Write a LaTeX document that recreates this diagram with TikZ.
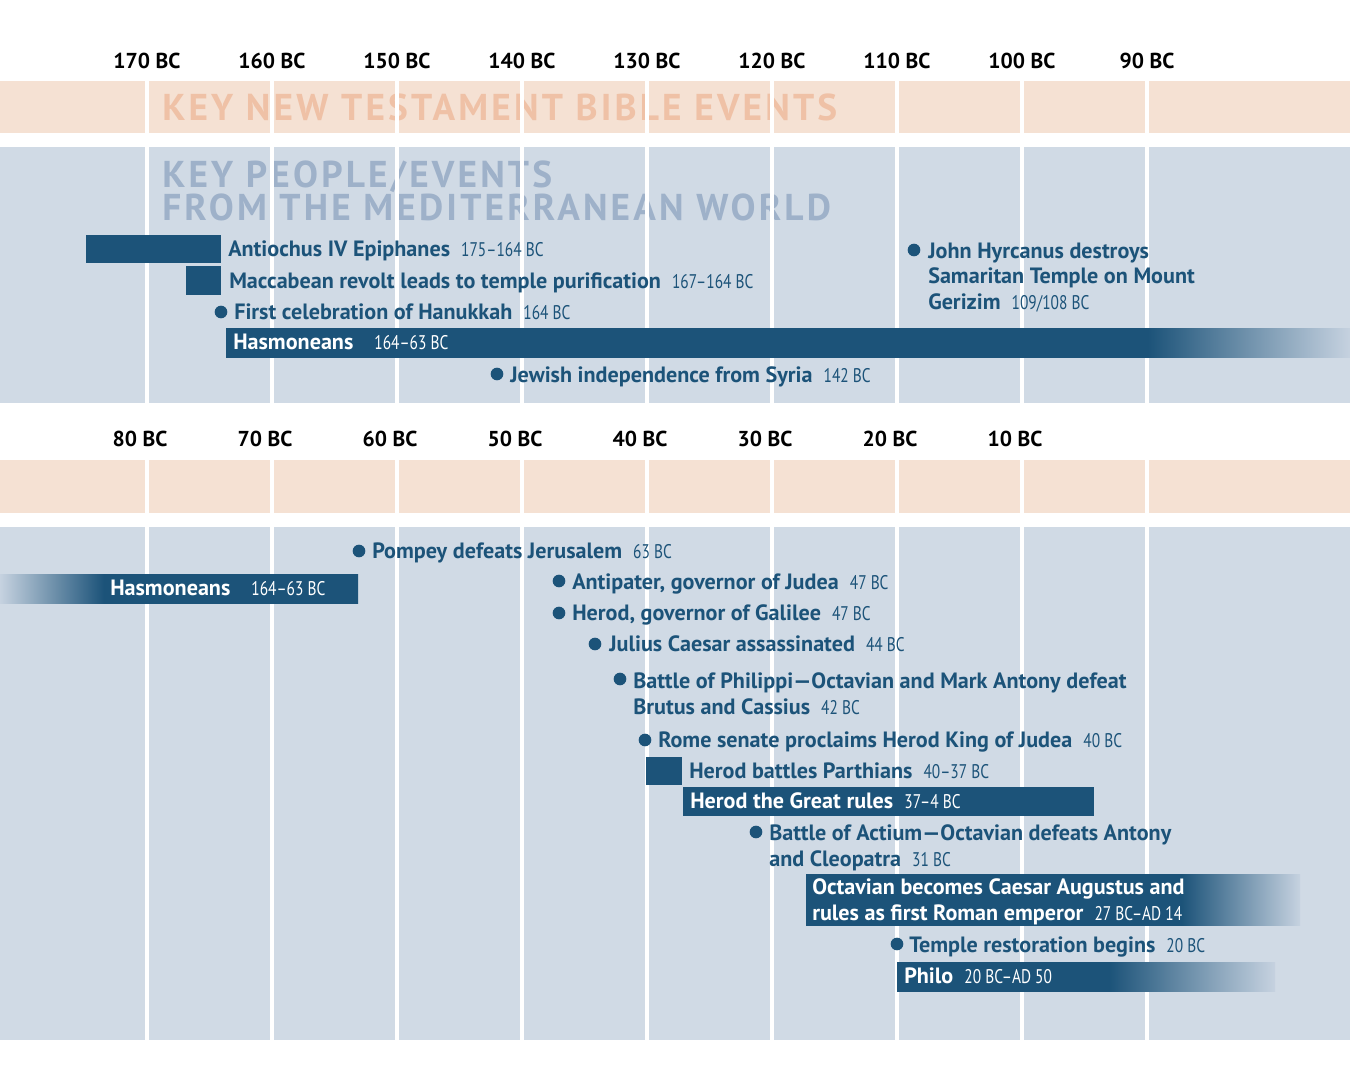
\documentclass[tikz,border=0pt]{standalone}
\usepackage{fontspec}
\setmainfont{PT Sans}
\newfontfamily\datefont[FakeStretch=0.78]{PT Sans}
\usetikzlibrary{positioning}

\definecolor{peachband}{RGB}{245,225,211}
\definecolor{peachtext}{RGB}{239,193,166}
\definecolor{blueband}{RGB}{208,218,229}
\definecolor{bluetext}{RGB}{158,177,201}
\definecolor{barblue}{RGB}{28,83,121}
\definecolor{fadeend}{RGB}{198,210,224}

\pgfdeclarehorizontalshading{hasfade}{100bp}{color(0bp)=(barblue); color(66bp)=(barblue);
  color(75bp)=(fadeend); color(100bp)=(fadeend)}
\pgfdeclarehorizontalshading{hasfadeL}{100bp}{color(0bp)=(fadeend); color(25bp)=(fadeend);
  color(39.5bp)=(barblue); color(100bp)=(barblue)}
\pgfdeclarehorizontalshading{augfade}{100bp}{color(0bp)=(barblue); color(63bp)=(barblue);
  color(75bp)=(fadeend); color(100bp)=(fadeend)}
\pgfdeclarehorizontalshading{philofade}{100bp}{color(0bp)=(barblue); color(53bp)=(barblue);
  color(75bp)=(fadeend); color(100bp)=(fadeend)}

\newcommand{\evt}[3][0.5em]{{\bfseries #2}\hspace{#1}{\datefont\fontsize{14.8}{18.8}\selectfont #3}}

\begin{document}
\begin{tikzpicture}[x=0.75pt, y=-0.75pt,
  yearlbl/.style={font=\fontsize{16.2}{19}\selectfont\bfseries, inner sep=0, anchor=base},
  bigtitle/.style={font=\fontsize{28}{25}\selectfont\bfseries\addfontfeatures{LetterSpace=8.5},
    inner sep=0, anchor=base west, align=left},
  evlbl/.style={font=\fontsize{16.6}{18.8}\selectfont, text=barblue, inner sep=0,
    anchor=base west, align=left},
  barlbl/.style={evlbl, text=white},
  dot/.style={circle, fill=barblue, inner sep=0, minimum size=9.5pt},
  gridln/.style={white, line width=2.3pt}
]
  \useasboundingbox (0,0) rectangle (1350,1070);
  \fill[white] (0,0) rectangle (1350,1070);

  % bands
  \fill[peachband] (0,81) rectangle (1350,133);
  \fill[blueband] (0,147) rectangle (1350,403);
  \fill[peachband] (0,460) rectangle (1350,513);
  \fill[blueband] (0,527) rectangle (1350,1040);

  \node[bigtitle, text=peachtext] (nttitle) at (162,121) {KEY NEW TESTAMENT BIBLE EVENTS};
  \node[bigtitle, text=bluetext] (medtitle1) at (162,188) {KEY PEOPLE/EVENTS};
  \node[bigtitle, text=bluetext] (medtitle2) at (162,221) {FROM THE MEDITERRANEAN WORLD};

  \foreach \x in {147,272,...,1147} {
    \draw[gridln] (\x,81) -- (\x,403);
    \draw[gridln] (\x,460) -- (\x,1040);
  }
  \foreach \yr [count=\i from 0] in {170,160,150,140,130,120,110,100,90}
    \node[yearlbl] (top\yr) at (147+125*\i,69) {\yr\ BC};
  \foreach \yr [count=\i from 0] in {80,70,60,50,40,30,20,10}
    \node[yearlbl] (bot\yr) at (140+125*\i,446) {\yr\ BC};

  % top section
  \fill[barblue] (86,235) rectangle (221,263);
  \node[evlbl] (antiochus) at (228,257) {\evt{Antiochus IV Epiphanes}{175–164 BC}};
  \fill[barblue] (186,266) rectangle (221,295);
  \node[evlbl] (maccabean) at (229,288) {\evt{Maccabean revolt leads to temple purification}{167–164 BC}};
  \node[dot] (hanukkahdot) at (221,312) {};
  \node[evlbl] (hanukkah) at (234,319) {\evt{First celebration of Hanukkah}{164 BC}};
  \shade[shading=hasfade] (226,328) rectangle (1350,357);
  \node[barlbl] (hasmoneans) at (233,349) {\evt[0.95em]{Hasmoneans}{164–63 BC}};
  \node[dot] (syriadot) at (497,374) {};
  \node[evlbl] (syria) at (510,382) {\evt{Jewish independence from Syria}{142 BC}};
  \node[dot] (hyrcanusdot) at (914,250) {};
  \node[evlbl] (hyrcanus) at (928,309) {{\bfseries John Hyrcanus destroys}\\
    {\bfseries Samaritan Temple on Mount}\\ \evt{Gerizim}{109/108 BC}};

  % bottom section
  \node[dot] (pompeydot) at (359,551) {};
  \node[evlbl] (pompey) at (372,558) {\evt{Pompey defeats Jerusalem}{63 BC}};
  \shade[shading=hasfadeL] (0,574) rectangle (358,603);
  \node[barlbl] (hasmoneans2) at (110,595) {\evt[0.95em]{Hasmoneans}{164–63 BC}};
  \node[dot] (antipaterdot) at (559,581) {};
  \node[evlbl] (antipater) at (572,589) {\evt{Antipater, governor of Judea}{47 BC}};
  \node[dot] (galileedot) at (559,613) {};
  \node[evlbl] (galilee) at (572,620) {\evt{Herod, governor of Galilee}{47 BC}};
  \node[dot] (caesardot) at (595,644) {};
  \node[evlbl] (caesar) at (609,651) {\evt{Julius Caesar assassinated}{44 BC}};
  \node[dot] (philippidot) at (620,679) {};
  \node[evlbl] (philippi) at (633,714) {{\bfseries Battle of Philippi—Octavian and Mark Antony defeat}\\
    \evt{Brutus and Cassius}{42 BC}};
  \node[dot] (senatedot) at (645,740) {};
  \node[evlbl] (senate) at (658,747) {\evt{Rome senate proclaims Herod King of Judea}{40 BC}};
  \fill[barblue] (646,757) rectangle (682,785);
  \node[evlbl] (parthians) at (689,778) {\evt{Herod battles Parthians}{40–37 BC}};
  \fill[barblue] (683,787) rectangle (1094,816);
  \node[barlbl] (herod) at (690,808) {\evt{Herod the Great rules}{37–4 BC}};
  \node[dot] (actiumdot) at (756,832) {};
  \node[evlbl] (actium) at (769,866) {{\bfseries Battle of Actium—Octavian defeats Antony}\\
    \evt{and Cleopatra}{31 BC}};
  \shade[shading=augfade] (806,874) rectangle (1300,925);
  \node[barlbl] (augustus) at (812,920) {{\bfseries Octavian becomes Caesar Augustus and}\\
    \evt{rules as first Roman emperor}{27 BC–AD 14}};
  \node[dot] (templedot) at (897,944) {};
  \node[evlbl] (temple) at (909,952) {\evt{Temple restoration begins}{20 BC}};
  \shade[shading=philofade] (897,962) rectangle (1275,991);
  \node[barlbl] (philo) at (904,983) {\evt{Philo}{20 BC–AD 50}};
\end{tikzpicture}
\end{document}
